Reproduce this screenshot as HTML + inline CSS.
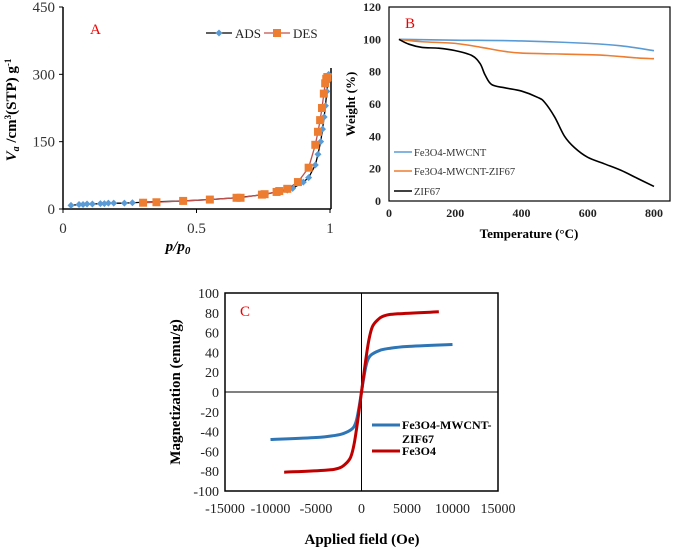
<!DOCTYPE html>
<html><head><meta charset="utf-8">
<style>
html,body{margin:0;padding:0;background:#fff;}
svg{display:block;font-family:"Liberation Serif",serif;}
</style></head>
<body>
<svg id="s" width="685" height="550" viewBox="0 0 685 550" xmlns="http://www.w3.org/2000/svg"></svg>
<script>
// ---- Chart A data ----
const adsP=[0.03,0.06,0.075,0.09,0.11,0.14,0.155,0.17,0.19,0.23,0.26,0.3,0.35,0.45,0.55,0.65,0.75,0.8,0.84,0.86,0.9,0.92,0.945,0.955,0.965,0.972,0.978,0.983,0.988,0.992,0.995];
const adsV=[8,10,10,11,11,12,12,13,13,13,14,15,16,18,21,25,32,38,42,46,60,70,98,122,150,178,205,230,262,285,300];
const desP=[0.3,0.35,0.45,0.55,0.65,0.665,0.745,0.755,0.8,0.81,0.84,0.88,0.92,0.945,0.955,0.963,0.97,0.977,0.982,0.986,0.99];
const desV=[14,15,18,21,25,25,32,33,38,40,45,60,92,143,172,198,225,257,280,290,294];
const aXTicks=["0","0.5","1"], aYTicks=["0","150","300","450"];
// ---- Chart B data ----
const bT1=[30,200,400,600,700,800], bW1=[100,99.5,99,97.5,96,93];
const bT2=[30,100,200,280,350,400,500,600,660,750,800], bW2=[100,98.5,97.5,95,92.5,91.5,91,90.5,90,88.5,88];
const bT3=[30,60,100,150,200,250,275,290,310,350,400,450,470,500,530,560,600,650,700,750,800];
const bW3=[100,97,95,94.5,93,90,85,78,72,70,68,64,61,52,40,33,27,23,19,14,9];
const bXTicks=[0,200,400,600,800], bYTicks=[0,20,40,60,80,100,120];
// ---- Chart C data ----
const cH1=[-10000,-5000,-3000,-2000,-1000,-600,-300,0,300,600,1000,2000,3000,5000,10000];
const cM1=[-48,-46,-44,-42,-37,-30,-17,0,17,30,37,42,44,46,48];
const cH2=[-8500,-4000,-2500,-1800,-1200,-800,-400,0,400,800,1200,1800,2500,4000,8500];
const cM2=[-81,-79,-77,-73,-66,-52,-28,0,28,52,66,73,77,79,81];
const cXTicks=[-15000,-10000,-5000,0,5000,10000,15000], cYTicks=[-100,-80,-60,-40,-20,0,20,40,60,80,100];

const S=document.getElementById('s');const NS="http://www.w3.org/2000/svg";
function el(t,a,txt){const e=document.createElementNS(NS,t);for(const k in a)e.setAttribute(k,a[k]);if(txt!==undefined)e.textContent=txt;S.appendChild(e);return e;}
function lin(d0,d1,r0,r1){return v=>r0+(v-d0)/(d1-d0)*(r1-r0);}
function smooth(pts){let d='M'+pts[0][0]+','+pts[0][1];
 for(let i=0;i<pts.length-1;i++){const p0=pts[Math.max(0,i-1)],p1=pts[i],p2=pts[i+1],p3=pts[Math.min(pts.length-1,i+2)];
  const c1=[p1[0]+(p2[0]-p0[0])/6,p1[1]+(p2[1]-p0[1])/6],c2=[p2[0]-(p3[0]-p1[0])/6,p2[1]-(p3[1]-p1[1])/6];
  d+=` C${c1[0]},${c1[1]} ${c2[0]},${c2[1]} ${p2[0]},${p2[1]}`;}
 return d;}

// ===== A =====
const ax=lin(0,1,63,330), ay=lin(0,450,209,7);
let e;
e=el('polyline',{points:'63,7 63,209 331,209',fill:'none',stroke:'#000','stroke-width':1.5});

e=el('line',{x1:331,y1:68,x2:331,y2:209,stroke:'#000','stroke-width':1.5});

aYTicks.forEach(t=>{const y=ay(+t);
 e=el('line',{x1:59,y1:y,x2:63,y2:y,stroke:'#000'});
 e=el('text',{x:55,y:y+5,'text-anchor':'end','font-size':15,fill:'#333'},t);});
aXTicks.forEach(t=>{const x=ax(+t);
 e=el('line',{x1:x,y1:209,x2:x,y2:213,stroke:'#000'});
 e=el('text',{x:x,y:233,'text-anchor':'middle','font-size':15,fill:'#333'},t);});
e=el('polyline',{points:adsP.map((p,i)=>ax(p)+','+ay(adsV[i])).join(' '),fill:'none',stroke:'#000','stroke-width':1.3});

adsP.forEach((p,i)=>{const x=ax(p),y=ay(adsV[i]);
 e=el('polygon',{points:`${x},${y-3.5} ${x+3.5},${y} ${x},${y+3.5} ${x-3.5},${y}`,fill:'#5b9bd5'});
 });
e=el('polyline',{points:desP.map((p,i)=>ax(p)+','+ay(desV[i])).join(' '),fill:'none',stroke:'#c0504d','stroke-width':1.3});

desP.forEach((p,i)=>{const x=ax(p),y=ay(desV[i]);
 e=el('rect',{x:x-4,y:y-4,width:8,height:8,fill:'#ed7d31'});
 });
e=el('text',{x:90,y:34,'font-size':15,fill:'#e00'},'A');
e=el('line',{x1:206,y1:33,x2:232,y2:33,stroke:'#000','stroke-width':1.3});
e=el('polygon',{points:'219,29.5 222.5,33 219,36.5 215.5,33',fill:'#5b9bd5'});
e=el('text',{x:235,y:38,'font-size':13,fill:'#222'},'ADS');
e=el('line',{x1:264,y1:33,x2:290,y2:33,stroke:'#c0504d','stroke-width':1.3});
e=el('rect',{x:273,y:29,width:8,height:8,fill:'#ed7d31'});
e=el('text',{x:293,y:38,'font-size':13,fill:'#222'},'DES');
e=el('text',{x:178,y:251,'text-anchor':'middle','font-size':15,'font-weight':'bold','font-style':'italic'});
e.innerHTML='p/p<tspan font-size="11" dy="3">0</tspan>';
e=el('text',{transform:'translate(16,110) rotate(-90)','text-anchor':'middle','font-size':15,'font-weight':'bold'});
e.innerHTML='<tspan font-style="italic">V</tspan><tspan font-style="italic" font-size="10" dy="3">a</tspan><tspan dy="-3"> /cm</tspan><tspan font-size="9" dy="-5">3</tspan><tspan dy="5">(STP) g</tspan><tspan font-size="9" dy="-5">-1</tspan>';


// ===== B =====
const bx=lin(0,800,389,654), by=lin(0,120,201,7);
e=el('rect',{x:389,y:7,width:281,height:194,fill:'none',stroke:'#000','stroke-width':1.2});
bYTicks.forEach(t=>{const y=by(t);
 e=el('text',{x:381,y:y+4,'text-anchor':'end','font-size':12,'font-weight':'bold',fill:'#222'},t);});
bXTicks.forEach(t=>{const x=bx(t);
 e=el('text',{x:x,y:217,'text-anchor':'middle','font-size':12,'font-weight':'bold',fill:'#222'},t);});
[[bT1,bW1,'#5b9bd5','fe3o4-mwcnt-tga'],[bT2,bW2,'#ed7d31','fe3o4-mwcnt-zif67-tga'],[bT3,bW3,'#000','zif67-tga']].forEach(([X,Y,c,n])=>{
 e=el('path',{d:smooth(X.map((t,i)=>[bx(t),by(Y[i])])),fill:'none',stroke:c,'stroke-width':1.6,'stroke-linejoin':'round'});
 });
[['#5b9bd5','Fe3O4-MWCNT',152],['#ed7d31','Fe3O4-MWCNT-ZIF67',171],['#000','ZIF67',191]].forEach(([c,t,y])=>{
 e=el('line',{x1:394,y1:y,x2:412,y2:y,stroke:c,'stroke-width':1.6});
 e=el('text',{x:414,y:y+4,'font-size':10.5,fill:'#333'},t);});
e=el('text',{x:405,y:28,'font-size':15,fill:'#e00'},'B');
e=el('text',{x:529,y:238,'text-anchor':'middle','font-size':13,'font-weight':'bold'},'Temperature (°C)');
e=el('text',{transform:'translate(355,104) rotate(-90)','text-anchor':'middle','font-size':13,'font-weight':'bold'},'Weight (%)');

// ===== C =====
const cx=lin(-15000,15000,225,498), cy=lin(-100,100,491,293);
e=el('rect',{x:225,y:293,width:273,height:198,fill:'none',stroke:'#000','stroke-width':1.5});
e=el('line',{x1:cx(0),y1:293,x2:cx(0),y2:491,stroke:'#000','stroke-width':1});
e=el('line',{x1:225,y1:cy(0),x2:498,y2:cy(0),stroke:'#000','stroke-width':1});
cYTicks.forEach(t=>{const y=cy(t);
 e=el('text',{x:219,y:y+5,'text-anchor':'end','font-size':14,fill:'#222'},t);});
cXTicks.forEach(t=>{const x=cx(t);
 e=el('text',{x:x,y:513,'text-anchor':'middle','font-size':14,fill:'#222'},t);});
e=el('path',{d:smooth(cH1.map((h,i)=>[cx(h),cy(cM1[i])])),fill:'none',stroke:'#2e75b6','stroke-width':3,'stroke-linejoin':'round'});

e=el('path',{d:smooth(cH2.map((h,i)=>[cx(h),cy(cM2[i])])),fill:'none',stroke:'#c00000','stroke-width':3,'stroke-linejoin':'round'});

e=el('text',{x:240,y:316,'font-size':15,fill:'#e00'},'C');
e=el('line',{x1:372,y1:425,x2:400,y2:425,stroke:'#2e75b6','stroke-width':3});
e=el('text',{x:402,y:429,'font-size':12,'font-weight':'bold'},'Fe3O4-MWCNT-');
e=el('text',{x:402,y:443,'font-size':12,'font-weight':'bold'},'ZIF67');
e=el('line',{x1:372,y1:451,x2:400,y2:451,stroke:'#c00000','stroke-width':3});
e=el('text',{x:402,y:455,'font-size':12,'font-weight':'bold'},'Fe3O4');
e=el('text',{x:362,y:544,'text-anchor':'middle','font-size':15,'font-weight':'bold'},'Applied field (Oe)');
e=el('text',{transform:'translate(180,392) rotate(-90)','text-anchor':'middle','font-size':15,'font-weight':'bold'},'Magnetization (emu/g)');
</script>
</body></html>
